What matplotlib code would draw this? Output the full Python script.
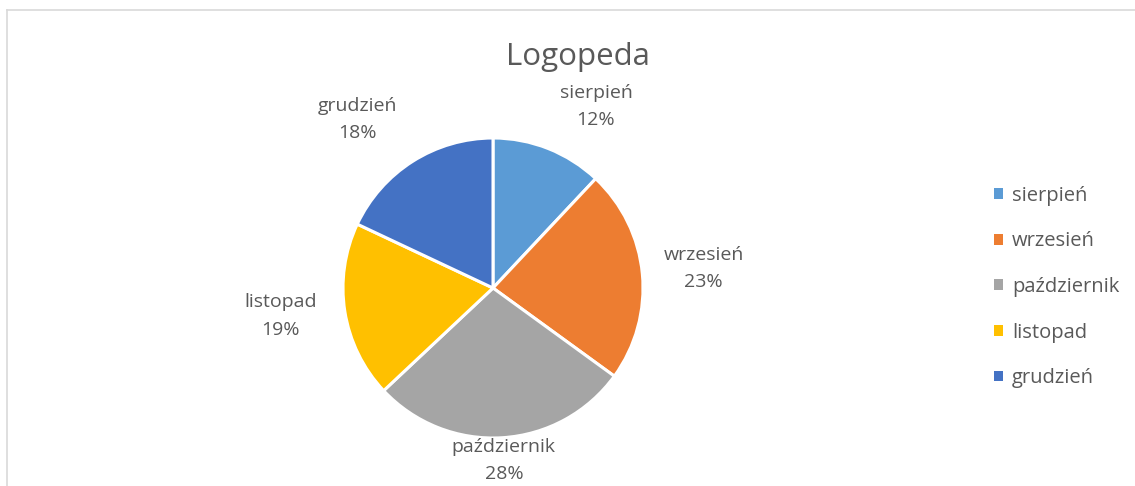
import matplotlib.pyplot as plt
from matplotlib.lines import Line2D
from matplotlib.patches import Patch
import numpy as np

months = ['sierpień', 'wrzesień', 'październik', 'listopad', 'grudzień']
shares = [12, 23, 28, 19, 18]
colors = ['#5b9bd5', '#ed7d31', '#a5a5a5', '#ffc000', '#4472c4']

# label distance (in radii) and angular nudge (deg) per slice, Excel "best fit" look
label_r = [1.39, 1.41, 1.15, 1.43, 1.44]
label_nudge = [8, 0, 0, 1.5, -6.5]

W, H = 1135, 486
fig = plt.figure(figsize=(W / 100, H / 100), dpi=100)
fig.patch.set_facecolor('white')
ax = fig.add_axes([0, 0, 1, 1])

cx, cy, R = 493, H - 288, 150
wedges, _ = ax.pie(shares, colors=colors, startangle=90, counterclock=False,
                   center=(cx, cy), radius=R, frame=True,
                   wedgeprops=dict(edgecolor='white', linewidth=2.2))
ax.set_xlim(0, W)
ax.set_ylim(0, H)
ax.set_aspect('equal')
ax.axis('off')

total = sum(shares)
txt = '#595959'
font = 'Open Sans'
start = 0.0
for name, v, r, nd in zip(months, shares, label_r, label_nudge):
    mid = (start + v / 2) / total * 360 + nd
    start += v
    a = np.deg2rad(mid)
    x = cx + r * R * np.sin(a)
    y = cy + r * R * np.cos(a)
    ax.text(x, y, f'{name}\n{v / total:.0%}', ha='center', va='center',
            fontsize=14, color=txt, family=font, linespacing=1.65)

ax.text(578, H - 57, 'Logopeda', ha='center', va='center', fontsize=22.5,
        color=txt, family=font)

handles = [Patch(facecolor=c, edgecolor='none') for c in colors]
leg = ax.legend(handles, months, loc='center left',
                bbox_to_anchor=(976 / W, 1 - 287 / H), frameon=False,
                handlelength=0.45, handleheight=0.45, handletextpad=0.45,
                labelspacing=1.27, prop=dict(family=font, size=14.5))
for t in leg.get_texts():
    t.set_color(txt)

# chart area border (top and left visible)
fig.add_artist(Line2D([6.5 / W, 1], [1 - 10.5 / H, 1 - 10.5 / H],
                      color='#d9d9d9', lw=1.2, transform=fig.transFigure))
fig.add_artist(Line2D([6.5 / W, 6.5 / W], [0, 1 - 10.5 / H],
                      color='#d9d9d9', lw=1.2, transform=fig.transFigure))

fig.savefig('out.png', dpi=100, facecolor='white')
